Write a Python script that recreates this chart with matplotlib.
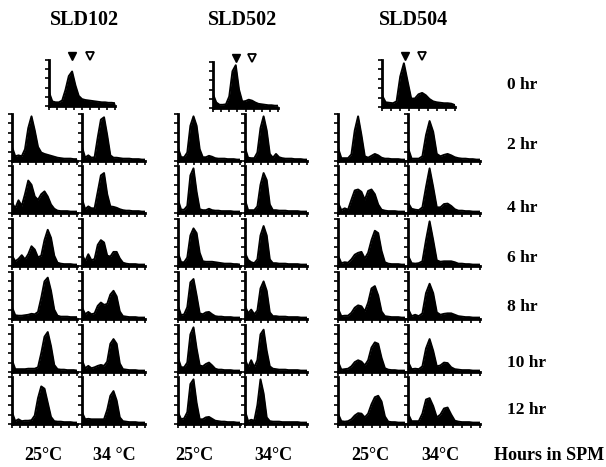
import numpy as np
import matplotlib
matplotlib.use("Agg")
import matplotlib.pyplot as plt

# ---------------- data ----------------
strains = ["SLD102", "SLD502", "SLD504"]
hours = ["0 hr", "2 hr", "4 hr", "6 hr", "8 hr", "10 hr", "12 hr"]
temps = [["25°C", "34 °C"], ["25°C", "34°C"], ["25°C", "34°C"]]
xlabel_right = "Hours in SPM"

channels = list(range(21))  # DNA-content channels (0..20)

# 0 hr histograms (one per strain)
sld102_0hr = [0.30,0.10,0.08,0.08,0.12,0.35,0.65,0.75,0.45,0.22,0.15,0.13,0.12,0.11,0.10,0.09,0.08,0.08,0.07,0.07,0.06]
sld502_0hr = [0.30,0.12,0.07,0.07,0.08,0.25,0.80,0.93,0.40,0.14,0.15,0.18,0.16,0.12,0.09,0.08,0.07,0.06,0.06,0.05,0.05]
sld504_0hr = [0.25,0.10,0.09,0.08,0.12,0.65,0.93,0.55,0.18,0.18,0.27,0.30,0.25,0.17,0.12,0.10,0.09,0.08,0.08,0.07,0.04]

# G1 (filled) and G2 (open) marker channels on the 0 hr panels
g1_marker = [7.0, 7.0, 6.2]
g2_marker = [12.4, 12.0, 11.0]

# 2..12 hr histograms, 25 C and 34 C for each strain
sld102_25c = [
    [0.30,0.10,0.12,0.10,0.25,0.70,0.95,0.65,0.30,0.18,0.15,0.13,0.11,0.09,0.07,0.06,0.05,0.05,0.05,0.04,0.04],
    [0.22,0.10,0.27,0.15,0.40,0.69,0.60,0.35,0.28,0.40,0.46,0.35,0.18,0.09,0.05,0.04,0.04,0.04,0.03,0.03,0.03],
    [0.22,0.10,0.15,0.23,0.14,0.25,0.42,0.35,0.18,0.22,0.55,0.77,0.60,0.22,0.07,0.05,0.04,0.04,0.04,0.03,0.03],
    [0.25,0.08,0.07,0.07,0.08,0.09,0.11,0.10,0.15,0.45,0.80,0.88,0.60,0.20,0.07,0.05,0.05,0.05,0.04,0.04,0.04],
    [0.25,0.06,0.06,0.06,0.06,0.07,0.07,0.07,0.10,0.40,0.75,0.85,0.55,0.15,0.06,0.05,0.05,0.04,0.04,0.04,0.03],
    [0.25,0.06,0.10,0.06,0.07,0.07,0.08,0.18,0.55,0.80,0.75,0.45,0.15,0.06,0.05,0.05,0.04,0.04,0.04,0.03,0.03],
]
sld102_34c = [
    [0.30,0.07,0.12,0.07,0.08,0.50,0.88,0.93,0.55,0.12,0.07,0.07,0.06,0.05,0.05,0.05,0.04,0.04,0.04,0.03,0.03],
    [0.30,0.08,0.14,0.10,0.10,0.45,0.80,0.85,0.40,0.14,0.13,0.11,0.08,0.06,0.05,0.05,0.04,0.04,0.04,0.03,0.03],
    [0.25,0.10,0.25,0.12,0.15,0.45,0.55,0.50,0.22,0.20,0.30,0.30,0.16,0.07,0.05,0.04,0.04,0.04,0.03,0.03,0.03],
    [0.25,0.10,0.15,0.10,0.12,0.28,0.35,0.30,0.32,0.52,0.60,0.48,0.16,0.06,0.05,0.04,0.04,0.04,0.03,0.03,0.03],
    [0.25,0.08,0.13,0.08,0.10,0.13,0.15,0.13,0.22,0.60,0.70,0.60,0.18,0.06,0.05,0.04,0.04,0.04,0.03,0.03,0.03],
    [0.25,0.10,0.11,0.10,0.10,0.10,0.10,0.10,0.30,0.60,0.70,0.50,0.14,0.06,0.05,0.04,0.04,0.04,0.03,0.03,0.03],
]
sld502_25c = [
    [0.28,0.08,0.08,0.18,0.75,0.95,0.75,0.25,0.08,0.08,0.11,0.09,0.06,0.05,0.05,0.05,0.04,0.04,0.04,0.03,0.03],
    [0.28,0.07,0.07,0.15,0.80,0.95,0.45,0.08,0.06,0.06,0.09,0.06,0.05,0.05,0.04,0.04,0.04,0.04,0.03,0.03,0.03],
    [0.28,0.08,0.08,0.18,0.65,0.80,0.70,0.28,0.10,0.09,0.09,0.09,0.08,0.07,0.06,0.05,0.05,0.05,0.04,0.04,0.03],
    [0.28,0.08,0.10,0.25,0.78,0.85,0.50,0.12,0.10,0.14,0.15,0.10,0.06,0.05,0.05,0.04,0.04,0.04,0.03,0.03,0.03],
    [0.30,0.10,0.10,0.20,0.80,0.95,0.50,0.14,0.12,0.17,0.20,0.14,0.07,0.05,0.05,0.04,0.04,0.04,0.03,0.03,0.03],
    [0.25,0.10,0.12,0.25,0.85,0.95,0.45,0.10,0.10,0.14,0.15,0.11,0.07,0.06,0.05,0.05,0.04,0.04,0.04,0.03,0.03],
]
sld502_34c = [
    [0.28,0.07,0.06,0.06,0.18,0.70,0.95,0.65,0.15,0.07,0.15,0.08,0.06,0.05,0.05,0.05,0.04,0.04,0.04,0.03,0.03],
    [0.28,0.06,0.06,0.06,0.14,0.60,0.85,0.70,0.18,0.06,0.06,0.05,0.05,0.05,0.04,0.04,0.04,0.04,0.03,0.03,0.03],
    [0.28,0.13,0.08,0.06,0.14,0.65,0.85,0.65,0.14,0.06,0.06,0.05,0.05,0.05,0.04,0.04,0.04,0.04,0.03,0.03,0.03],
    [0.28,0.12,0.20,0.10,0.18,0.65,0.80,0.60,0.14,0.06,0.06,0.05,0.05,0.05,0.04,0.04,0.04,0.04,0.03,0.03,0.03],
    [0.28,0.10,0.25,0.10,0.25,0.80,0.90,0.45,0.12,0.07,0.06,0.05,0.05,0.05,0.04,0.04,0.04,0.04,0.03,0.03,0.03],
    [0.28,0.06,0.09,0.07,0.40,0.95,0.65,0.14,0.06,0.05,0.05,0.05,0.04,0.04,0.04,0.04,0.04,0.04,0.03,0.03,0.03],
]
sld504_25c = [
    [0.28,0.06,0.06,0.06,0.14,0.65,0.95,0.55,0.10,0.07,0.11,0.15,0.12,0.07,0.05,0.05,0.04,0.04,0.04,0.03,0.03],
    [0.22,0.06,0.10,0.07,0.28,0.48,0.50,0.45,0.28,0.47,0.50,0.40,0.18,0.07,0.05,0.04,0.04,0.04,0.03,0.03,0.03],
    [0.22,0.06,0.08,0.07,0.14,0.24,0.28,0.30,0.16,0.28,0.55,0.75,0.70,0.32,0.08,0.05,0.04,0.04,0.04,0.03,0.03],
    [0.22,0.06,0.07,0.07,0.13,0.24,0.29,0.27,0.16,0.35,0.65,0.70,0.50,0.16,0.06,0.05,0.04,0.04,0.04,0.03,0.03],
    [0.22,0.05,0.06,0.07,0.12,0.21,0.25,0.22,0.14,0.25,0.52,0.63,0.60,0.30,0.08,0.05,0.04,0.04,0.03,0.03,0.03],
    [0.22,0.06,0.05,0.06,0.10,0.18,0.23,0.22,0.14,0.22,0.42,0.57,0.60,0.48,0.16,0.05,0.04,0.04,0.03,0.03,0.03],
]
sld504_34c = [
    [0.28,0.05,0.05,0.05,0.10,0.55,0.85,0.62,0.15,0.10,0.13,0.15,0.12,0.08,0.06,0.05,0.05,0.04,0.04,0.03,0.03],
    [0.22,0.09,0.07,0.06,0.12,0.55,0.95,0.55,0.12,0.12,0.19,0.20,0.15,0.08,0.05,0.05,0.04,0.04,0.03,0.03,0.03],
    [0.22,0.06,0.05,0.06,0.10,0.55,0.95,0.55,0.12,0.09,0.10,0.10,0.10,0.08,0.05,0.05,0.04,0.04,0.03,0.03,0.03],
    [0.22,0.06,0.09,0.06,0.12,0.55,0.75,0.55,0.14,0.09,0.11,0.12,0.12,0.09,0.06,0.05,0.04,0.04,0.03,0.03,0.03],
    [0.22,0.06,0.07,0.06,0.12,0.50,0.70,0.45,0.12,0.14,0.20,0.19,0.10,0.06,0.05,0.04,0.04,0.04,0.03,0.03,0.03],
    [0.22,0.06,0.06,0.06,0.22,0.52,0.55,0.38,0.14,0.20,0.33,0.35,0.20,0.07,0.05,0.04,0.04,0.04,0.03,0.03,0.03],
]

zero_hr = [sld102_0hr, sld502_0hr, sld504_0hr]
grid = [[sld102_25c, sld102_34c], [sld502_25c, sld502_34c], [sld504_25c, sld504_34c]]

# ---------------- layout (pixels) ----------------
W, H = 606, 467
plt.rcParams['font.family'] = ['Liberation Serif', 'DejaVu Serif']
fig = plt.figure(figsize=(W / 100, H / 100), dpi=100)

def px_axes(x0, y0, x1, y1):
    return fig.add_axes([x0 / W, 1 - y1 / H, (x1 - x0) / W, (y1 - y0) / H])

def style(ax):
    ax.set_xlim(0, 20)
    ax.set_ylim(0, 1.0)
    for s in ["top", "right"]:
        ax.spines[s].set_visible(False)
    for s in ["left", "bottom"]:
        ax.spines[s].set_linewidth(2.0)
        ax.spines[s].set_color("black")
    ax.set_xticks(np.arange(0, 21, 2.5))
    ax.set_yticks(np.arange(0, 1.01, 0.2))
    ax.tick_params(direction="out", length=3, width=1.2, labelbottom=False, labelleft=False)
    ax.patch.set_alpha(0)

def draw_hist(ax, vals):
    ax.fill_between(channels, vals, 0, color="black", linewidth=0)
    ax.plot(channels, vals, color="black", lw=1.4)
    style(ax)

top_boxes = [(49, 60, 115, 106), (213, 62, 278, 108), (382, 60, 455, 107)]
col_x = [[(12, 77), (82, 145)], [(178, 240), (245, 307)], [(338, 405), (408, 480)]]
row_y = [(114, 161), (166, 213), (219, 266), (272, 319), (325, 372), (377, 424)]

for si in range(3):
    ax = px_axes(*top_boxes[si])
    draw_hist(ax, zero_hr[si])
    ax.plot([g1_marker[si]], [1.08], marker="v", ms=6, color="black", clip_on=False)
    ax.plot([g2_marker[si]], [1.08], marker="v", ms=6, mfc="white", mec="black", mew=1.3, clip_on=False)
    for ti in range(2):
        x0, x1 = col_x[si][ti]
        for ri in range(6):
            y0, y1 = row_y[ri]
            ax = px_axes(x0, y0, x1, y1)
            draw_hist(ax, grid[si][ti][ri])

# strain titles
title_x = [84, 243, 413]
for si, name in enumerate(strains):
    fig.text(title_x[si] / W, 1 - 20 / H, name, ha="center", va="center",
             fontsize=14.5, fontweight="bold")

# hour labels
hour_y = [85, 145, 208, 258, 307, 363, 410]
for hi, lab in enumerate(hours):
    fig.text(507 / W, 1 - hour_y[hi] / H, lab, ha="left", va="center",
             fontsize=12.5, fontweight="bold")

# temperature labels
temp_x = [[43, 114], [194, 273], [370, 440]]
for si in range(3):
    for ti in range(2):
        fig.text(temp_x[si][ti] / W, 1 - 455 / H, temps[si][ti], ha="center", va="center",
                 fontsize=13, fontweight="bold")
fig.text(549 / W, 1 - 455 / H, xlabel_right, ha="center", va="center",
         fontsize=13, fontweight="bold")

fig.savefig("out.png", dpi=100, facecolor="white")
